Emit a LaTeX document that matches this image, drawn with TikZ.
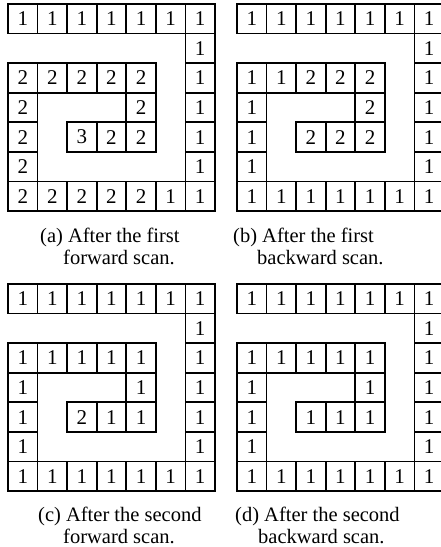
\documentclass[tikz,border=0pt]{standalone}
\usepackage{fontspec}
\setmainfont{Liberation Serif}
\usetikzlibrary{positioning}

\tikzset{
  cell/.style={draw,line width=1.6pt,minimum size=29.57pt,inner sep=0pt,
    font=\fontsize{21}{21}\selectfont},
  capline/.style={anchor=base west,inner sep=0pt,
    font=\fontsize{20.5}{24}\selectfont}
}

% one 7x7 panel: name, left, top, rows (- = no cell)
\newcommand\scanpanel[4]{%
  \begin{scope}[shift={(#2,#3)}]
    \foreach \row [count=\r from 0] in {#4} {
      \foreach \v [count=\c from 0] in \row {
        \if\v-\else
          \node[cell] (#1-\r-\c) at ({(\c+0.5)*\cs},{(\r+0.5)*\cs}) {\v};
        \fi
      }
    }
  \end{scope}}

\begin{document}
\begin{tikzpicture}[x=1pt,y=-1pt]
  \def\cs{29.57}
  \useasboundingbox (0,0) rectangle (441,547);
  \clip (0,0) rectangle (441,547);
  % (a) first forward scan
  \scanpanel{a}{8}{4}{{1,1,1,1,1,1,1},{-,-,-,-,-,-,1},{2,2,2,2,2,-,1},
    {2,-,-,-,2,-,1},{2,-,3,2,2,-,1},{2,-,-,-,-,-,1},{2,2,2,2,2,1,1}}
  % (b) first backward scan
  \scanpanel{b}{237}{4}{{1,1,1,1,1,1,1},{-,-,-,-,-,-,1},{1,1,2,2,2,-,1},
    {1,-,-,-,2,-,1},{1,-,2,2,2,-,1},{1,-,-,-,-,-,1},{1,1,1,1,1,1,1}}
  % (c) second forward scan
  \scanpanel{c}{8}{284}{{1,1,1,1,1,1,1},{-,-,-,-,-,-,1},{1,1,1,1,1,-,1},
    {1,-,-,-,1,-,1},{1,-,2,1,1,-,1},{1,-,-,-,-,-,1},{1,1,1,1,1,1,1}}
  % (d) second backward scan
  \scanpanel{d}{237}{284}{{1,1,1,1,1,1,1},{-,-,-,-,-,-,1},{1,1,1,1,1,-,1},
    {1,-,-,-,1,-,1},{1,-,1,1,1,-,1},{1,-,-,-,-,-,1},{1,1,1,1,1,1,1}}
  % Captions
  \node[capline] (capa1) at (40,242) {(a) After the first};
  \node[capline] (capa2) at (63,264) {forward scan.};
  \node[capline] (capb1) at (233,242) {(b) After the first};
  \node[capline] (capb2) at (257,264) {backward scan.};
  \node[capline] (capc1) at (38,521) {(c) After the second};
  \node[capline] (capc2) at (63,543) {forward scan.};
  \node[capline] (capd1) at (235,521) {(d) After the second};
  \node[capline] (capd2) at (258,543) {backward scan.};
\end{tikzpicture}
\end{document}
